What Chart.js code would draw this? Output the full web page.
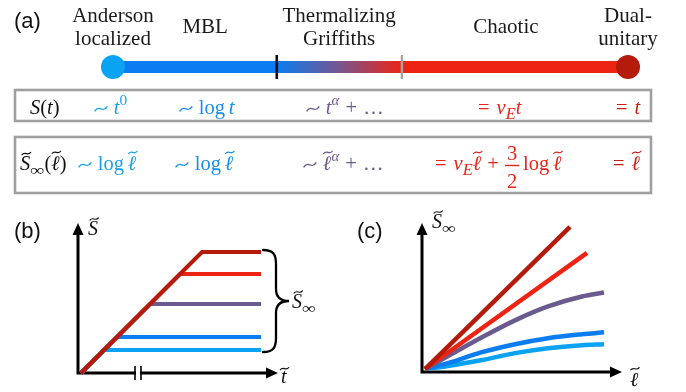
<!DOCTYPE html>
<html>
<head>
<meta charset="utf-8">
<script src="https://cdn.jsdelivr.net/npm/chart.js@4.4.1/dist/chart.umd.min.js"></script>
<style>
  html, body { margin: 0; padding: 0; background: #fff; }
  #wrap { position: relative; width: 686px; height: 392px; overflow: hidden; background: #fff; }
  #wrap canvas { position: absolute; left: 0; top: 0; }
</style>
</head>
<body>
<div id="wrap">
  <canvas id="phase" width="686" height="392"></canvas>
  <canvas id="growth" width="686" height="392"></canvas>
  <canvas id="scaling" width="686" height="392"></canvas>
</div>
<script>
// ---- data ---------------------------------------------------------------
// phases, ordered along the phase line
const phaseNames = [['Anderson', 'localized'], ['MBL'], ['Thermalizing', 'Griffiths'], ['Chaotic'], ['Dual-', 'unitary']];
// phase-line coordinate: 0 = Anderson end, 1 = dual-unitary end; the inner two are the transitions
const phaseStops = [0, 0.318, 0.561, 1];
// where each phase name sits along the phase line
const phaseLabelAt = [0, 0.179, 0.439, 0.763, 1];

// (b) entanglement growth: S grows at unit speed, then saturates at S_inf
const saturation = [2.3, 3.6, 6.9, 9.9, 12.1];   // Anderson, MBL, Griffiths, chaotic, dual-unitary
const tEnd = 18;
const tBreak = [5.4, 6.0];                       // broken-axis marks on the time axis

// (c) saturation value versus subsystem size
const ellGrid = [0, 2.3, 5.7, 9.0, 12.3, 15.7, 17.9];
const sInfAnderson = [0, 0.3, 0.9, 1.6, 2.1, 2.4, 2.5];
const sInfMBL = [0, 0.6, 1.7, 2.5, 3.1, 3.5, 3.7];
const sInfGriffiths = [0, 1.3, 3.2, 4.9, 6.3, 7.3, 7.7];
const ellChaotic = [0, 16.2];
const sInfChaotic = [0, 11.7];
const ellDual = [0, 14.5];
const sInfDual = [0, 14.3];

// ---- styles -------------------------------------------------------------
const COL = {
  anderson: '#0aa3f4',
  mbl: '#0b7cf1',
  griffiths: '#6b5a8d',
  chaotic: '#ed2414',
  dual: '#b41b0b'
};
const phaseCol = [COL.anderson, COL.mbl, COL.griffiths, COL.chaotic, COL.dual];
const TXT = { anderson: '#1ba0f0', mbl: '#178ef0', griffiths: '#6b5a8d', chaotic: '#e8241a', dual: '#c81e10' };
const SERIF = '"Liberation Serif", "Times New Roman", "DejaVu Serif", serif';
const SANS = '"Liberation Sans", Arial, "DejaVu Sans", sans-serif';
const fnt = (size, it) => (it ? 'italic ' : '') + size + 'px ' + SERIF;
const ROW_SIZE = 20.5;

// ---- small math typesetter ---------------------------------------------
function wave(ctx, cx, cy, w, a, lw) {
  ctx.save();
  ctx.lineWidth = lw;
  ctx.lineCap = 'round';
  ctx.beginPath();
  ctx.moveTo(cx - w / 2, cy + a);
  ctx.bezierCurveTo(cx - w / 6, cy - 2.4 * a, cx + w / 6, cy + 2.4 * a, cx + w / 2, cy - a);
  ctx.stroke();
  ctx.restore();
}

function drawMath(ctx, x, base, toks, color, size) {
  ctx.save();
  ctx.fillStyle = color;
  ctx.strokeStyle = color;
  ctx.textBaseline = 'alphabetic';
  ctx.textAlign = 'left';
  for (const k of toks) {
    if (k.sp !== undefined) { x += k.sp * size; continue; }
    if (k.sim) {
      // the "similar to" relation
      const w = 0.58 * size;
      wave(ctx, x + w / 2, base - 0.25 * size, w, 0.095 * size, 0.075 * size);
      x += w;
      continue;
    }
    if (k.frac) {
      ctx.font = fnt(size, false);
      const wn = ctx.measureText(k.frac[0]).width, wd = ctx.measureText(k.frac[1]).width;
      const w = Math.max(wn, wd) + 0.2 * size;
      ctx.fillText(k.frac[0], x + (w - wn) / 2, base - 0.5 * size);
      ctx.fillText(k.frac[1], x + (w - wd) / 2, base + 0.9 * size);
      ctx.fillRect(x, base - 0.22 * size - 0.7, w, 1.4);
      x += w;
      continue;
    }
    const small = k.sup || k.sub;
    const s = small ? size * (k.scale || 0.72) : size;
    const dy = k.sup ? -0.45 * size : (k.sub ? 0.25 * size : 0);
    ctx.font = fnt(s, k.it);
    if (k.sx) {
      ctx.save();
      ctx.translate(x, base + dy);
      ctx.scale(k.sx, 1);
      ctx.fillText(k.s, 0, 0);
      ctx.restore();
    } else {
      ctx.fillText(k.s, x, base + dy);
    }
    const w = ctx.measureText(k.s).width * (k.sx || 1);
    if (k.acc) {
      const wa = 0.42 * s;
      wave(ctx, x + w * 0.5 + (k.skew || 0) * s, base + dy - k.acc * s, wa, wa * 0.13, Math.max(1, wa * 0.14));
    }
    x += w + (k.kern || 0) * s;
  }
  ctx.restore();
  return x;
}

const I = (s, o) => Object.assign({ s: s, it: true }, o || {});
const R = (s, o) => Object.assign({ s: s }, o || {});
const SP = n => ({ sp: n });
const SIM = () => ({ sim: true });
const REL = 0.34, BIN = 0.3, THIN = 0.18;
const ELL = () => I('\u2113', { acc: 0.86, skew: 0.04 });
const TILDE_S = () => I('S', { acc: 0.8, skew: 0.06 });
const INF = () => R('\u221e', { sub: true, scale: 0.72, sx: 1.35 });

// rows of the summary boxes: [x, tokens, colour]
const rowS = [
  [30, [I('S'), R('('), I('t'), R(')')], '#111'],
  [95, [SIM(), SP(REL), I('t'), R('0', { sup: true, scale: 0.75 })], TXT.anderson],
  [180, [SIM(), SP(REL), R('log'), SP(THIN), I('t')], TXT.mbl],
  [307, [SIM(), SP(REL), I('t'), I('\u03b1', { sup: true }), SP(BIN), R('+'), SP(BIN), R('\u2026')], TXT.griffiths],
  [478, [R('='), SP(REL), I('v'), I('E', { sub: true, scale: 0.8 }), I('t')], TXT.chaotic],
  [616, [R('='), SP(REL), I('t')], TXT.dual]
];
const rowSinf = [
  [20, [TILDE_S(), INF(), R('('), ELL(), R(')')], '#111'],
  [79, [SIM(), SP(REL), R('log'), SP(THIN), ELL()], TXT.anderson],
  [176, [SIM(), SP(REL), R('log'), SP(THIN), ELL()], TXT.mbl],
  [304, [SIM(), SP(REL), ELL(), I('\u03b1', { sup: true }), SP(BIN), R('+'), SP(BIN), R('\u2026')], TXT.griffiths],
  [435, [R('='), SP(REL), I('v'), I('E', { sub: true, scale: 0.8 }), ELL(), SP(BIN), R('+'), SP(BIN), { frac: ['3', '2'] }, SP(THIN), R('log'), SP(THIN), ELL()], TXT.chaotic],
  [613, [R('='), SP(REL), ELL()], TXT.dual]
];

// ---- common chart options ----------------------------------------------
function baseOptions(pad, xr, yr) {
  return {
    responsive: false,
    animation: false,
    events: [],
    layout: { padding: pad },
    scales: {
      x: { type: 'linear', min: xr[0], max: xr[1], display: false },
      y: { type: 'linear', min: yr[0], max: yr[1], display: false }
    },
    plugins: { legend: { display: false }, tooltip: { enabled: false } }
  };
}

function panelTag(ctx, txt, x, y) {
  ctx.save();
  ctx.fillStyle = '#111';
  ctx.font = '22px ' + SANS;
  ctx.textBaseline = 'alphabetic';
  ctx.fillText(txt, x, y);
  ctx.restore();
}

// arrows for the two axes of a sketch panel
function drawAxes(chart) {
  const { ctx, chartArea: a } = chart;
  const head = 12, half = 5.5;
  ctx.save();
  ctx.strokeStyle = '#000';
  ctx.fillStyle = '#000';
  ctx.lineWidth = 3;
  ctx.beginPath();
  ctx.moveTo(a.left, a.bottom + 1.5);
  ctx.lineTo(a.left, a.top + head - 1);
  ctx.moveTo(a.left - 1.5, a.bottom);
  ctx.lineTo(a.right - head + 1, a.bottom);
  ctx.stroke();
  ctx.beginPath();
  ctx.moveTo(a.left, a.top);
  ctx.lineTo(a.left - half, a.top + head);
  ctx.lineTo(a.left + half, a.top + head);
  ctx.closePath();
  ctx.fill();
  ctx.beginPath();
  ctx.moveTo(a.right, a.bottom);
  ctx.lineTo(a.right - head, a.bottom - half);
  ctx.lineTo(a.right - head, a.bottom + half);
  ctx.closePath();
  ctx.fill();
  ctx.restore();
}

// ---- (a) phase line with the growth laws beneath -----------------------
const phaseDecor = {
  id: 'phaseDecor',
  afterDatasetsDraw(chart) {
    const ctx = chart.ctx;
    const xs = chart.scales.x;
    const top = chart.chartArea.top, bot = chart.chartArea.bottom;
    // transition markers
    ctx.save();
    ctx.fillStyle = '#111';
    ctx.fillRect(xs.getPixelForValue(phaseStops[1]) - 1.3, top, 2.6, bot - top);
    ctx.fillStyle = '#a3a3a3';
    ctx.fillRect(xs.getPixelForValue(phaseStops[2]) - 1.2, top, 2.4, bot - top);
    ctx.restore();
  },
  afterDraw(chart) {
    const ctx = chart.ctx;
    const xs = chart.scales.x;
    panelTag(ctx, '(a)', 14, 28);
    ctx.save();
    ctx.fillStyle = '#1a1a1a';
    ctx.font = '21px ' + SERIF;
    ctx.textAlign = 'center';
    ctx.textBaseline = 'alphabetic';
    phaseNames.forEach((lines, i) => {
      const cx = xs.getPixelForValue(phaseLabelAt[i]);
      if (lines.length === 2) {
        ctx.fillText(lines[0], cx, 22);
        ctx.fillText(lines[1], cx, 45);
      } else {
        ctx.fillText(lines[0], cx, 33);
      }
    });
    // boxes
    ctx.strokeStyle = '#a0a0a0';
    ctx.lineWidth = 2.6;
    ctx.strokeRect(15, 90, 636, 31);
    ctx.strokeRect(15, 137, 636, 56);
    ctx.restore();
    rowS.forEach(r => drawMath(ctx, r[0], 114, r[1], r[2], ROW_SIZE));
    rowSinf.forEach(r => drawMath(ctx, r[0], 170, r[1], r[2], ROW_SIZE));
  }
};

new Chart(document.getElementById('phase'), {
  type: 'line',
  data: {
    datasets: [{
      data: phaseStops.map(p => ({ x: p, y: 0 })),
      borderWidth: 12,
      borderCapStyle: 'butt',
      pointRadius: [12, 0, 0, 12],
      pointHoverRadius: 0,
      pointBorderWidth: 0,
      pointBackgroundColor: [COL.anderson, COL.mbl, COL.chaotic, COL.dual],
      clip: false,
      segment: {
        borderColor: c => {
          if (c.p0DataIndex === 1) {
            const g = c.chart.ctx.createLinearGradient(c.p0.x, 0, c.p1.x, 0);
            g.addColorStop(0, COL.mbl);
            g.addColorStop(0.5, '#77568f');
            g.addColorStop(1, COL.chaotic);
            return g;
          }
          return c.p0DataIndex === 0 ? COL.mbl : COL.chaotic;
        }
      }
    }]
  },
  options: baseOptions({ left: 113, right: 58, top: 55, bottom: 313 }, [0, 1], [-1, 1]),
  plugins: [phaseDecor]
});

// ---- (b) S(t): linear growth then saturation ---------------------------
const growthDecor = {
  id: 'growthDecor',
  beforeDatasetsDraw(chart) { drawAxes(chart); },
  afterDraw(chart) {
    const ctx = chart.ctx;
    const xs = chart.scales.x, ys = chart.scales.y;
    const a = chart.chartArea;
    panelTag(ctx, '(b)', 14, 238);
    // broken time axis
    const b0 = xs.getPixelForValue(tBreak[0]), b1 = xs.getPixelForValue(tBreak[1]);
    ctx.save();
    ctx.fillStyle = '#fff';
    ctx.fillRect(b0 + 1, a.bottom - 2, b1 - b0 - 2, 4);
    ctx.strokeStyle = '#000';
    ctx.lineWidth = 1.6;
    ctx.beginPath();
    ctx.moveTo(b0, a.bottom - 7); ctx.lineTo(b0, a.bottom + 7);
    ctx.moveTo(b1, a.bottom - 7); ctx.lineTo(b1, a.bottom + 7);
    ctx.stroke();
    // brace spanning the saturation values
    const yt = ys.getPixelForValue(Math.max(...saturation)) - 2;
    const yb = ys.getPixelForValue(Math.min(...saturation)) + 2;
    const ym = (yt + yb) / 2;
    const x0 = xs.getPixelForValue(tEnd) + 2, x1 = x0 + 13, x2 = x0 + 26;
    ctx.lineWidth = 2.3;
    ctx.lineCap = 'round';
    ctx.beginPath();
    ctx.moveTo(x0, yt);
    ctx.bezierCurveTo(x0 + 10, yt, x1, yt + 4, x1, yt + 14);
    ctx.lineTo(x1, ym - 12);
    ctx.bezierCurveTo(x1, ym - 4, x1 + 5, ym, x2, ym);
    ctx.bezierCurveTo(x1 + 5, ym, x1, ym + 4, x1, ym + 12);
    ctx.lineTo(x1, yb - 14);
    ctx.bezierCurveTo(x1, yb - 4, x0 + 10, yb, x0, yb);
    ctx.stroke();
    ctx.restore();
    // axis and brace labels
    drawMath(ctx, 88, 235, [TILDE_S()], '#111', 20);
    drawMath(ctx, 281, 383, [I('t', { acc: 0.72, skew: 0.04 })], '#111', 20);
    drawMath(ctx, 292, 308, [TILDE_S(), INF()], '#111', 20);
  }
};

const growthSets = saturation.map((s, i) => ({
  data: [{ x: 0, y: 0 }, { x: s, y: s }, { x: tEnd, y: s }],
  borderColor: phaseCol[i],
  borderWidth: 4,
  borderJoinStyle: 'miter',
  borderCapStyle: 'butt',
  pointRadius: 0,
  clip: false,
  order: saturation.length - 1 - i
}));

new Chart(document.getElementById('growth'), {
  type: 'line',
  data: { datasets: growthSets },
  options: baseOptions({ left: 78, right: 408, top: 223, bottom: 19 }, [-0.3, 19.7], [0, 15]),
  plugins: [growthDecor]
});

// ---- (c) S_inf versus subsystem size -----------------------------------
const scalingDecor = {
  id: 'scalingDecor',
  beforeDatasetsDraw(chart) { drawAxes(chart); },
  afterDraw(chart) {
    const ctx = chart.ctx;
    panelTag(ctx, '(c)', 357, 238);
    drawMath(ctx, 432, 228, [TILDE_S(), INF()], '#111', 20);
    drawMath(ctx, 630, 386, [ELL()], '#111', 20);
  }
};

const pairs = (xs, ys) => xs.map((x, i) => ({ x: x, y: ys[i] }));
const scalingCurves = [
  pairs(ellGrid, sInfAnderson),
  pairs(ellGrid, sInfMBL),
  pairs(ellGrid, sInfGriffiths),
  pairs(ellChaotic, sInfChaotic),
  pairs(ellDual, sInfDual)
];

new Chart(document.getElementById('scaling'), {
  type: 'line',
  data: {
    datasets: scalingCurves.map((d, i) => ({
      data: d,
      borderColor: phaseCol[i],
      borderWidth: 4.5,
      borderCapStyle: 'butt',
      cubicInterpolationMode: 'monotone',
      pointRadius: 0,
      clip: false,
      order: scalingCurves.length - 1 - i
    }))
  },
  options: baseOptions({ left: 422, right: 64, top: 223, bottom: 20 }, [-0.3, 19.7], [-0.3, 14.7]),
  plugins: [scalingDecor]
});
</script>
</body>
</html>
